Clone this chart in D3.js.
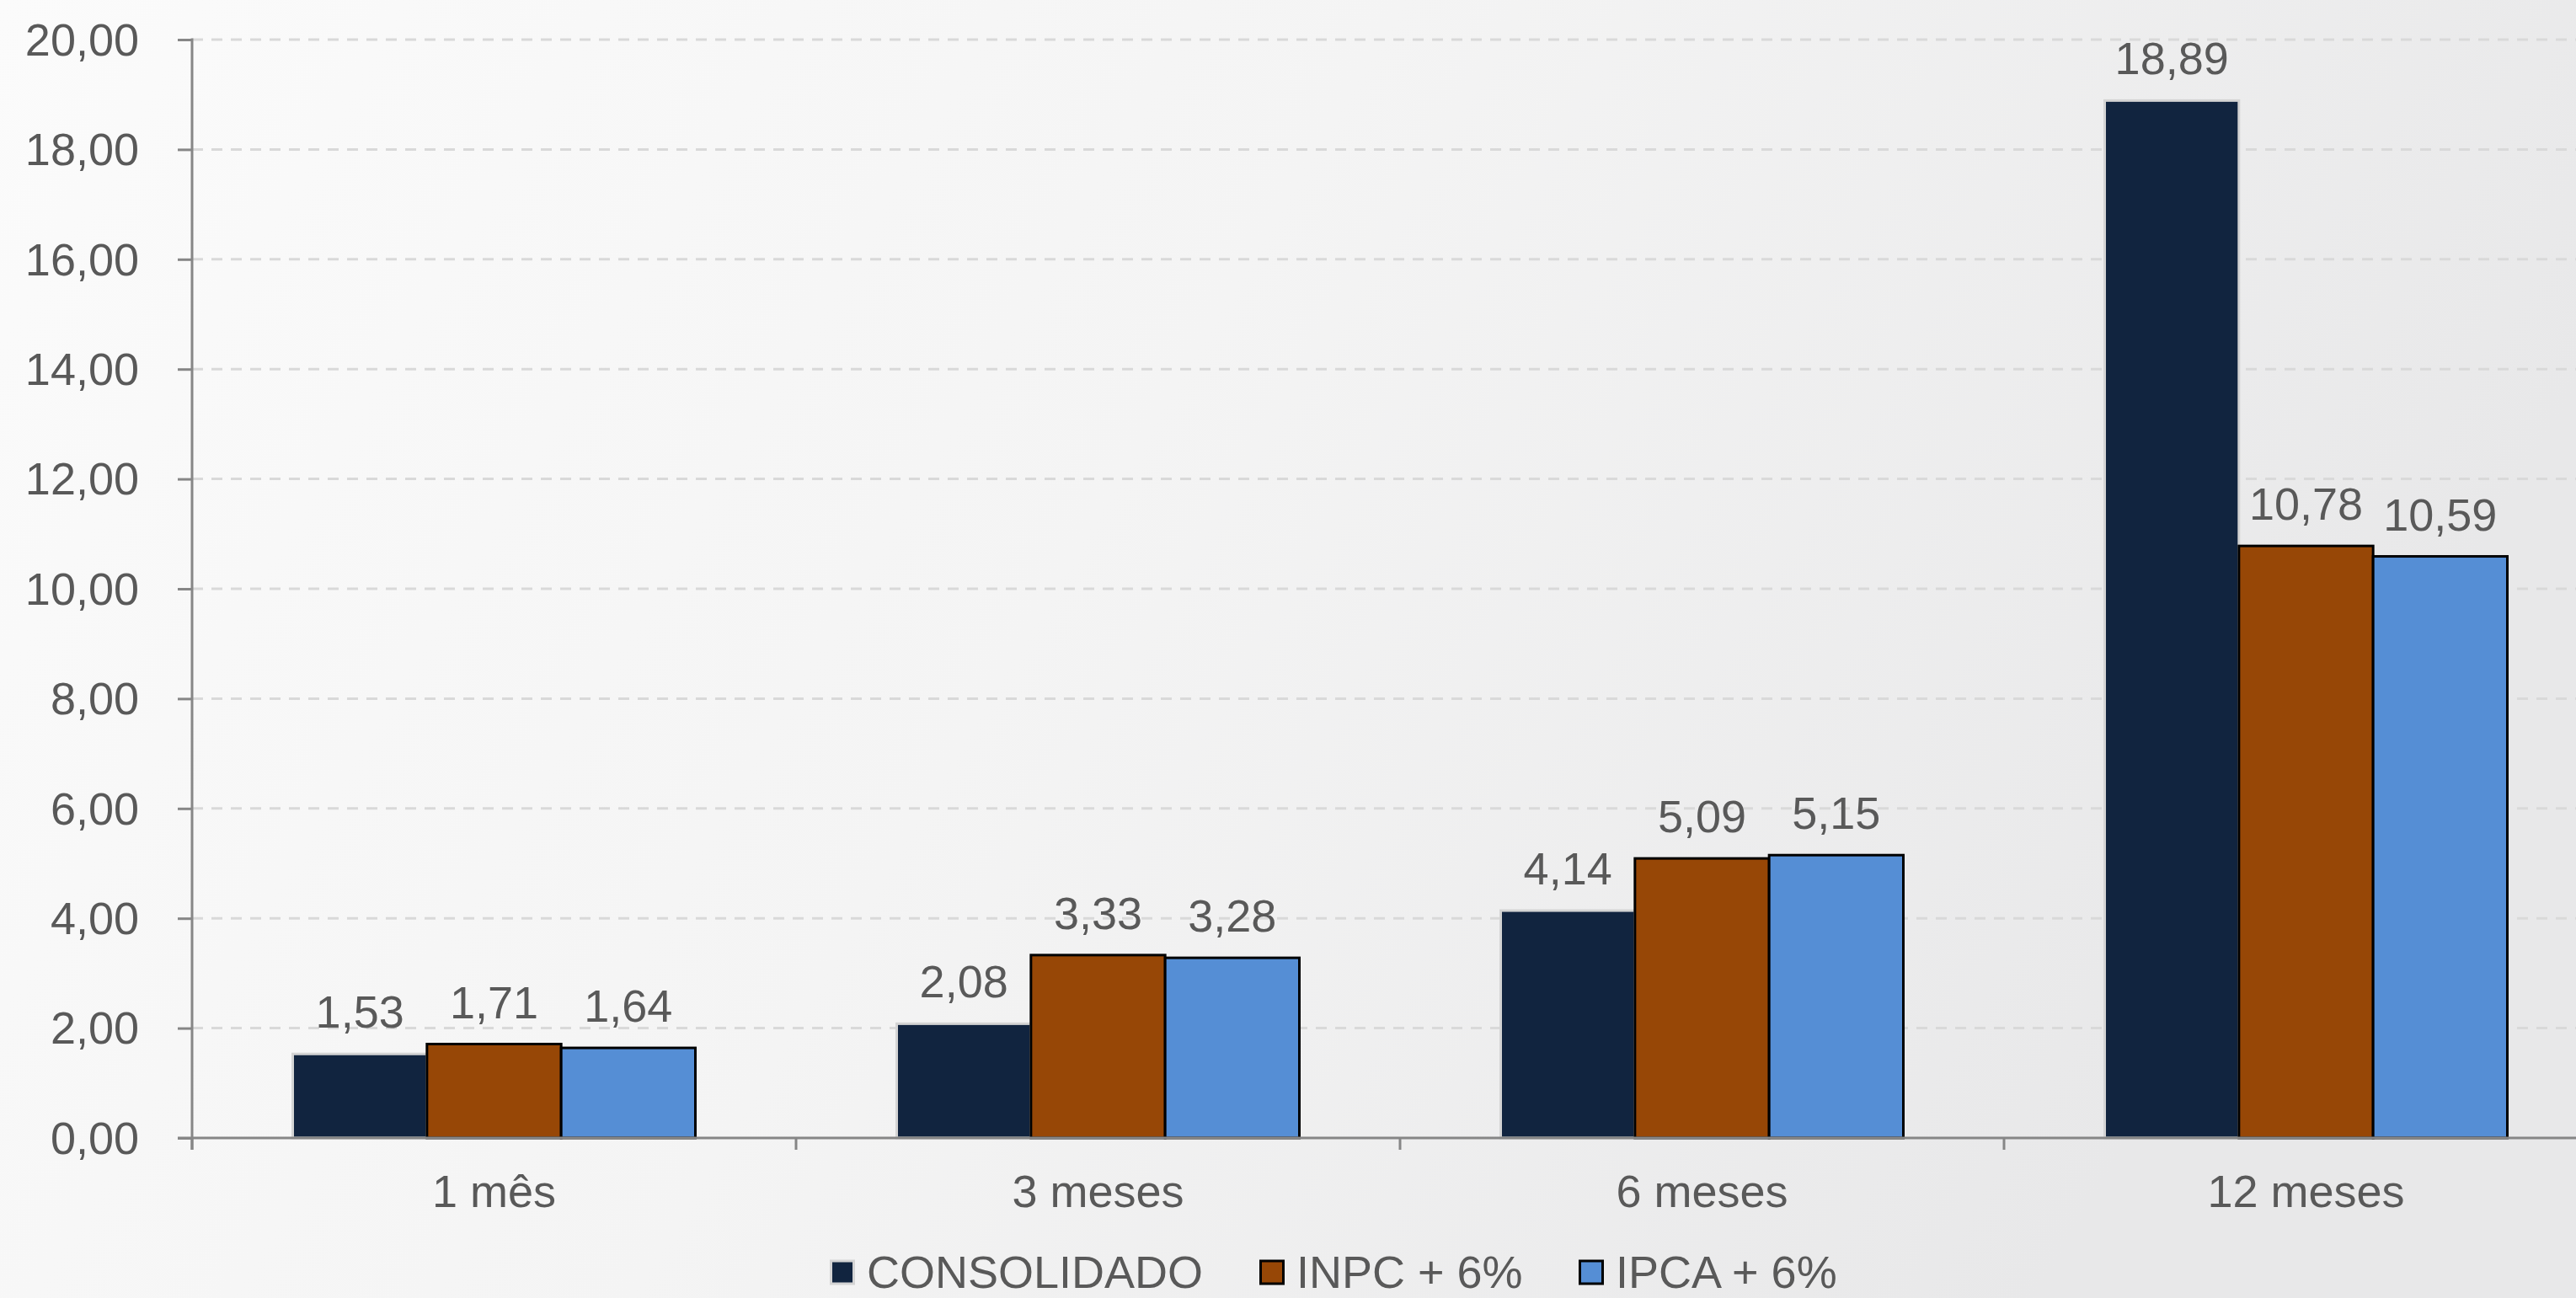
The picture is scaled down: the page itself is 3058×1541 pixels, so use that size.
<!DOCTYPE html>
<html>
<head>
<meta charset="utf-8">
<script src="https://cdn.jsdelivr.net/npm/d3@7"></script>
<style>
  html, body { margin: 0; padding: 0; background: #f5f5f5; overflow: hidden; }
  svg { display: block; }
  text { font-family: "Liberation Sans", Arial, sans-serif; fill: #595959; }
</style>
</head>
<body>
<svg id="chart" width="3058" height="1541"></svg>
<script>
const categories = ["1 mês", "3 meses", "6 meses", "12 meses"];
const seriesNames = ["CONSOLIDADO", "INPC + 6%", "IPCA + 6%"];
const consolidado = [1.53, 2.08, 4.14, 18.89];
const inpc = [1.71, 3.33, 5.09, 10.78];
const ipca = [1.64, 3.28, 5.15, 10.59];
const yTicks = [0, 2, 4, 6, 8, 10, 12, 14, 16, 18, 20];
const seriesColors = ["#11243f", "#974706", "#558ed5"];
const seriesStrokes = ["#d4d4d4", "#000000", "#000000"];

(function () {
const seriesValues = [consolidado, inpc, ipca];
const W = 3058, H = 1541;
const FS = 54;
const svg = d3.select("#chart");

// background gradient
const defs = svg.append("defs");
const grad = defs.append("linearGradient").attr("id", "bg")
  .attr("x1", "0%").attr("y1", "0%").attr("x2", "100%").attr("y2", "30%");
grad.append("stop").attr("offset", "0%").attr("stop-color", "#fbfbfb");
grad.append("stop").attr("offset", "50%").attr("stop-color", "#f4f4f4");
grad.append("stop").attr("offset", "100%").attr("stop-color", "#e8e8e9");
svg.append("rect").attr("width", W).attr("height", H).attr("fill", "url(#bg)");

const pLeft = 228, pRight = 3096, pTop = 47, pBottom = 1351;
const fmt = v => d3.format(".2f")(v).replace(".", ",");

const x0 = d3.scaleBand().domain(categories).range([pLeft, pRight]).padding(0);
const x1 = d3.scaleBand().domain(seriesNames).range([0, x0.bandwidth()])
  .paddingInner(0).paddingOuter(0.75);
const y = d3.scaleLinear().domain([0, 20]).range([pBottom, pTop]);

// gridlines
svg.append("g").selectAll("line").data(yTicks.filter(d => d > 0)).join("line")
  .attr("x1", pLeft).attr("x2", pRight)
  .attr("y1", d => y(d)).attr("y2", d => y(d))
  .attr("stroke", "#d9d9d9").attr("stroke-width", 3)
  .attr("stroke-dasharray", "13,10");

// bars
const groups = svg.append("g").selectAll("g").data(categories).join("g")
  .attr("transform", c => `translate(${x0(c)},0)`);
groups.selectAll("rect").data((c, ci) => seriesNames.map((s, si) => ({ s, si, v: seriesValues[si][ci] })))
  .join("rect")
  .attr("x", d => x1(d.s))
  .attr("y", d => y(d.v))
  .attr("width", x1.bandwidth())
  .attr("height", d => y(0) - y(d.v))
  .attr("fill", d => seriesColors[d.si])
  .attr("stroke", d => seriesStrokes[d.si])
  .attr("stroke-width", 3);

// data labels
groups.selectAll("text").data((c, ci) => seriesNames.map((s, si) => ({ s, si, v: seriesValues[si][ci] })))
  .join("text")
  .attr("x", d => x1(d.s) + x1.bandwidth() / 2)
  .attr("y", d => y(d.v) - 31)
  .attr("text-anchor", "middle")
  .attr("font-size", FS)
  .text(d => fmt(d.v));

// y axis
const yAxis = d3.axisLeft(y).tickValues(yTicks).tickSize(17).tickPadding(46).tickFormat(fmt);
const gy = svg.append("g").attr("transform", `translate(${pLeft},0)`).call(yAxis);
gy.select(".domain").remove();
gy.selectAll(".tick line").attr("stroke", "#868686").attr("stroke-width", 3);
gy.selectAll(".tick text").attr("font-size", FS).attr("fill", "#595959")
  .attr("font-family", "Liberation Sans, Arial, sans-serif").attr("dy", "0.34em");
svg.append("line").attr("x1", pLeft).attr("x2", pLeft).attr("y1", pTop - 1.5).attr("y2", pBottom + 14)
  .attr("stroke", "#868686").attr("stroke-width", 3);

// x axis
svg.append("line").attr("x1", pLeft - 17).attr("x2", pRight).attr("y1", pBottom).attr("y2", pBottom)
  .attr("stroke", "#868686").attr("stroke-width", 3);
const boundaries = categories.map(c => x0(c)).concat([x0(categories[categories.length - 1]) + x0.bandwidth()]);
svg.append("g").selectAll("line").data(boundaries).join("line")
  .attr("x1", d => d).attr("x2", d => d).attr("y1", pBottom).attr("y2", pBottom + 14)
  .attr("stroke", "#868686").attr("stroke-width", 3);
svg.append("g").selectAll("text").data(categories).join("text")
  .attr("x", c => x0(c) + x0.bandwidth() / 2)
  .attr("y", 1433)
  .attr("text-anchor", "middle")
  .attr("font-size", FS)
  .text(c => c);

// legend
const legendX = [985, 1495, 1874];
const leg = svg.append("g").selectAll("g").data(seriesNames).join("g")
  .attr("transform", (d, i) => `translate(${legendX[i]},0)`);
leg.append("rect").attr("x", 1.5).attr("y", 1497).attr("width", 27).attr("height", 27)
  .attr("fill", (d, i) => seriesColors[i])
  .attr("stroke", (d, i) => seriesStrokes[i]).attr("stroke-width", 3);
leg.append("text").attr("x", 44).attr("y", 1529).attr("font-size", FS).text(d => d);
})();
</script>
</body>
</html>
